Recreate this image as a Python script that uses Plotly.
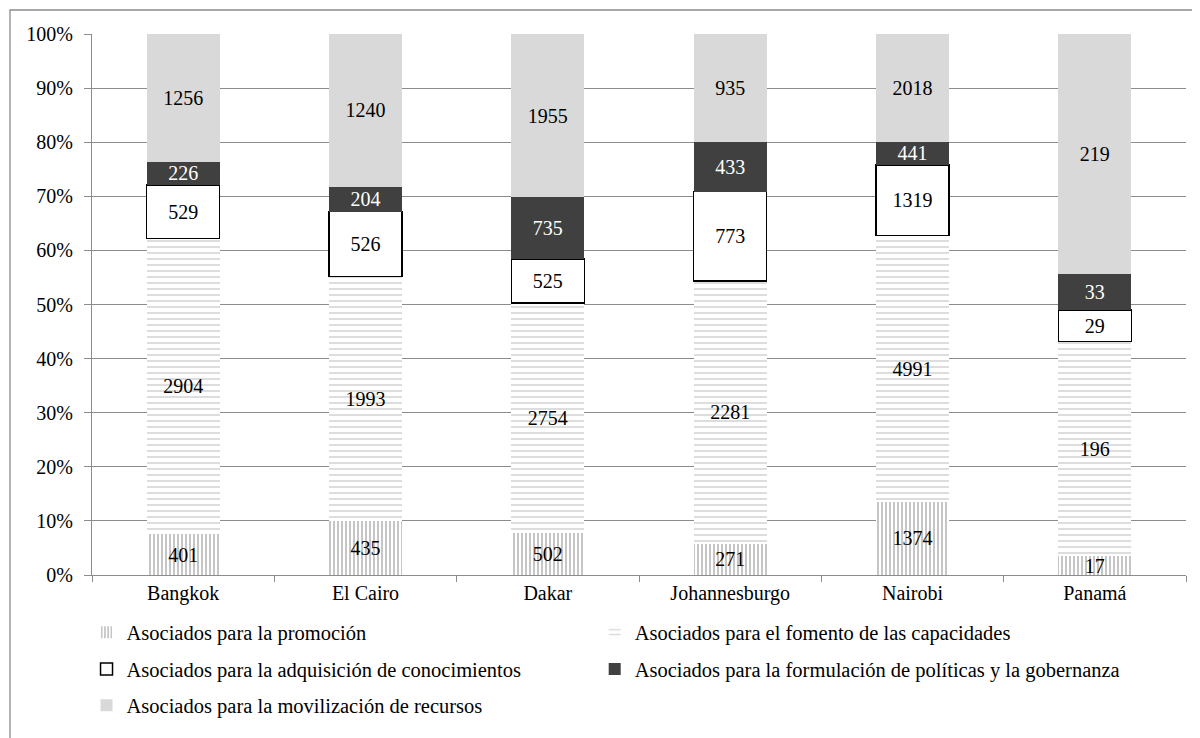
import plotly.graph_objects as go

cities = ["Bangkok", "El Cairo", "Dakar", "Johannesburgo", "Nairobi", "Panamá"]
promocion = [401, 435, 502, 271, 1374, 17]
fomento = [2904, 1993, 2754, 2281, 4991, 196]
adquisicion = [529, 526, 525, 773, 1319, 29]
formulacion = [226, 204, 735, 433, 441, 33]
movilizacion = [1256, 1240, 1955, 935, 2018, 219]

names = [
    "Asociados para la promoción",
    "Asociados para el fomento de las capacidades",
    "Asociados para la adquisición de conocimientos",
    "Asociados para la formulación de políticas y la gobernanza",
    "Asociados para la movilización de recursos",
]
legend_ids = ["legend", "legend2", "legend3", "legend4", "legend5"]

FONT = "Liberation Serif"
FS = 20
LFS = 20.5

fig = go.Figure()

styles = [
    dict(marker=dict(color="white", line=dict(width=0),
                     pattern=dict(shape="|", fgcolor="#7f7f7f", bgcolor="white", size=4, solidity=0.45)),
         tc="black"),
    dict(marker=dict(color="white", line=dict(width=0),
                     pattern=dict(shape="-", fgcolor="#b5b5b5", bgcolor="white", size=6, solidity=0.3)),
         tc="black"),
    dict(marker=dict(color="white", line=dict(width=1.5, color="black")), tc="black"),
    dict(marker=dict(color="#404040", line=dict(width=0)), tc="white"),
    dict(marker=dict(color="#d9d9d9", line=dict(width=0)), tc="black"),
]

for name, vals, st, lg in zip(names, [promocion, fomento, adquisicion, formulacion, movilizacion], styles, legend_ids):
    fig.add_trace(go.Bar(
        x=cities, y=vals, name=name, legend=lg,
        text=[str(v) for v in vals],
        textposition="inside", insidetextanchor="middle", textangle=0,
        textfont=dict(family=FONT, size=FS, color=st["tc"]),
        marker=st["marker"],
        hoverinfo="skip",
    ))

# page body has an 8px margin; offset the figure accordingly
W, H = 1192, 730
L, T, R, B = 84, 26, 14, 163
PH = H - T - B

def leg(x, y):
    return dict(orientation="h", x=x, xanchor="left", y=y, yanchor="top",
                itemwidth=30,
                font=dict(family=FONT, size=LFS, color="black"),
                bgcolor="rgba(0,0,0,0)")

C1, C2 = -0.005, 0.4595
R1, R2, R3 = -0.069, -0.137, -0.204

fig.update_layout(
    width=W, height=H,
    barmode="stack", barnorm="percent", bargap=0.6,
    paper_bgcolor="white", plot_bgcolor="white",
    margin=dict(l=L, r=R, t=T, b=B, autoexpand=False),
    font=dict(family=FONT, size=FS, color="black"),
    uniformtext=dict(minsize=FS, mode="show"),
    showlegend=True,
    legend=leg(C1, R1),
    legend2=leg(C2, R1),
    legend3=leg(C1, R2),
    legend4=leg(C2, R2),
    legend5=leg(C1, R3),
    xaxis=dict(showline=True, linecolor="#8c8c8c", linewidth=1.3,
               ticks="outside", tickson="boundaries", ticklen=6, tickcolor="#8c8c8c",
               tickfont=dict(family=FONT, size=FS, color="black"),
               showgrid=False),
    yaxis=dict(range=[0, 100], dtick=10, ticksuffix="%",
               showline=True, linecolor="#8c8c8c", linewidth=1.3,
               ticks="outside", ticklen=7, tickcolor="#8c8c8c", ticklabelstandoff=7,
               showgrid=True, gridcolor="#8c8c8c", gridwidth=1.3,
               tickfont=dict(family=FONT, size=FS, color="black"),
               zeroline=False),
    shapes=[dict(type="rect", xref="paper", yref="paper",
                 x0=(2 - L) / 1094, x1=(1210 - L) / 1094,
                 y0=(567 - 745) / PH, y1=(567 - 2) / PH,
                 line=dict(color="#8c8c8c", width=1.3), fillcolor="rgba(0,0,0,0)", layer="below")],
)

fig.write_html("out.html")
